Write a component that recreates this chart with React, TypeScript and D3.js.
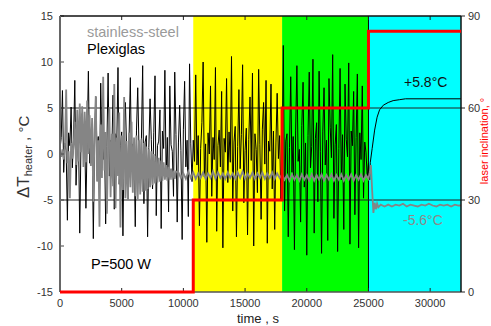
import React from "react";
import * as d3 from "d3";

// ---- data ----
const SAMPLE_STEP = 100; // s, sampling of the Plexiglas record and early steel record

// Plexiglas ΔT (°C) sampled every 100 s from 0 to 24900 s
const plexiglasWhite = [
  0.5, 1.8, 6.9, -2.0, 1.2, 0.4, -7.2, 2.3, 0.9, 5.1,
  -1.5, 1.6, 8.0, -3.4, 0.7, 2.0, -8.6, 1.1, 4.4, 0.3,
  2.2, -5.9, 1.4, 9.0, -1.0, 0.6, 2.5, -9.2, 1.0, 6.2,
  0.2, 1.9, -4.3, 7.7, 1.3, -0.6, 2.1, -7.6, 0.8, 8.8,
  -2.4, 1.5, 0.4, 6.4, -6.0, 2.2, 1.0, 9.4, -3.3, 0.9,
  2.4, -8.9, 1.2, 5.6, 0.5, -4.9, 2.0, 8.3, -1.8, 1.1,
  0.6, -7.9, 2.6, 7.2, 0.8, -2.7, 1.7, 9.6, -5.4, 1.3,
  2.0, -9.0, 0.7, 6.0, 1.6, -3.8, 2.3, 8.5, -6.7, 0.9,
  1.4, 4.8, -8.1, 2.5, 0.6, 9.1, -2.2, 1.8, -6.3, 7.4,
  1.0, 0.3, -4.6, 8.9, 2.1, -7.4, 1.2, 5.3, 0.4, -9.3,
  2.7, 7.9, -1.4, 1.5, -6.8, 9.8, 1.1, -3.0,
];
const plexiglasYellow = [
  1.5, -0.8, 8.6, -1.2, 2.0, -7.8, 0.6, 3.4, 10.0, -2.5,
  1.1, -9.6, 2.3, 0.0, 7.4, -4.6, 1.8, -0.6, 9.4, -8.4,
  0.9, 2.6, -1.4, 6.8, -10.2, 1.7, 0.2, 8.2, -3.1, 2.4,
  -0.9, 10.6, -6.2, 1.3, 3.0, -9.0, 0.8, 7.0, -1.6, 2.1,
  9.7, -5.3, 0.4, 2.8, -8.8, 1.6, 6.2, -0.7, 8.8, -10.0,
  2.2, 0.5, -4.2, 9.2, 1.0, -7.1, 2.7, 5.6, -1.1, 8.0,
  -9.7, 1.4, 0.3, 7.6, -3.8, 2.5, -8.2, 1.2, 6.6, -0.5,
  2.0, -5.0,
];
const plexiglasGreen = [
  -1.0, 11.8, -6.2, 1.4, 2.2, -9.0, 0.7, 8.4, -2.0, 1.9,
  -10.4, 2.6, 9.6, -0.8, 0.5, -7.4, 3.1, 7.8, -3.6, 1.2,
  -11.0, 2.0, 8.9, -1.5, 0.8, 10.3, -8.6, 1.7, 3.4, -5.2,
  9.0, 0.3, -10.8, 2.4, 7.2, -1.2, 1.5, -9.4, 8.2, 2.9,
  -0.4, 10.8, -7.0, 1.0, 3.2, -10.6, 0.6, 9.3, -2.8, 2.1,
  -8.2, 7.6, 1.6, -0.3, 9.9, -9.8, 2.5, 0.9, 6.8, -6.6,
  1.8, 8.7, -10.2, 2.3, -0.6, 7.4, -4.8, 1.3, 0.2, -2.5,
];
// Plexiglas after the last inclination step: [time s, ΔT °C]
const plexiglasTail: [number, number][] = [
  [25000, -1.0], [25100, -2.8], [25150, -0.9], [25300, 0.6], [25500, 2.6],
  [25700, 4.0], [25900, 4.8], [26200, 5.3], [26600, 5.6], [27000, 5.8],
  [27500, 5.9], [28000, 6.0], [32500, 6.0],
];

// stainless-steel ΔT (°C) sampled every 100 s from 0 to 9400 s
const steelEarly = [
  0.2, -0.3, 0.5, -0.6, 0.8, 7.0, -1.0, 0.3, -4.8, 1.2,
  -0.5, 0.9, 3.5, -1.2, 4.8, -0.8, 5.5, 0.2, 5.2, -1.4,
  4.6, -0.9, 5.8, 0.0, 4.2, -1.3, 3.9, -5.2, 2.6, 6.3,
  -3.0, 1.5, -7.9, 3.2, -2.6, 8.4, -1.8, 2.4, -6.5, 1.0,
  5.1, -4.7, 2.2, -3.5, 7.6, -5.9, 1.8, -2.4, 4.5, -8.0,
  2.0, -3.9, 6.2, -4.8, 1.4, -5.0, 2.3, -3.6, 3.5, -4.2,
  1.8, -4.6, 2.0, -4.9, 1.5, -4.4, 1.6, -4.1, 1.2, -4.0,
  0.8, -3.8, 0.5, -3.6, 0.3, -3.4, 0.0, -3.2, -0.2, -3.1,
  -0.4, -3.0, -0.7, -2.9, -0.9, -2.8, -1.2, -2.9, -1.4, -2.8,
  -1.6, -2.8, -1.8, -2.7, -1.9,
];
const STEEL_PLATEAU_START = 9600;
const STEEL_PLATEAU_STEP = 200;
const steelPlateau = [
  -2.0, -2.6, -2.1, -2.7, -1.9, -2.6, -2.0, -2.7, -2.1, -2.6,
  -2.0, -2.7, -2.1, -2.6, -1.9, -2.7, -2.0, -2.6, -2.1, -2.7,
  -2.0, -2.6, -2.1, -2.7, -2.0, -2.6, -1.9, -2.7, -2.1, -2.6,
  -2.0, -2.7, -2.1, -2.6, -2.0, -2.7, -2.1, -2.6, -2.0, -2.7,
  -2.1, -2.6, -2.2, -2.8, -2.3, -2.9, -2.2, -2.8, -2.3, -2.9,
  -2.2, -2.8, -2.3, -2.9, -2.2, -2.9, -2.3, -2.8, -2.2, -2.9,
  -2.3, -2.8, -2.2, -2.9, -2.3, -2.8, -2.2, -2.9, -2.3, -2.8,
  -2.2, -2.9, -2.3, -2.8, -2.2, -2.9, -2.3, -2.7,
];
const steelTail: [number, number][] = [
  [25100, -2.0], [25200, -1.2], [25300, -4.0], [25400, -6.4], [25500, -5.3],
  [25600, -6.0], [25700, -5.4], [25800, -5.8], [26000, -5.5], [26300, -5.7],
  [26600, -5.5], [26900, -5.7], [27200, -5.5], [27500, -5.6], [27800, -5.4],
  [28100, -5.7], [28400, -5.5], [28700, -5.6], [29000, -5.7], [29300, -5.5],
  [29600, -5.6], [29900, -5.4], [30200, -5.6], [30500, -5.7], [30800, -5.5],
  [31100, -5.6], [31400, -5.5], [31700, -5.7], [32000, -5.5], [32300, -5.6],
  [32500, -5.6],
];

// laser inclination phases
const phaseStarts = [0, 10800, 18000, 25000];
const phaseAngles = [0, 30, 60, 85];
const phaseColors = ["#ffffff", "#ffff00", "#00ff00", "#00ffff"];
const X_END = 32500;

const xTicks = [0, 5000, 10000, 15000, 20000, 25000, 30000];
const yLeftTicks = [-15, -10, -5, 0, 5, 10, 15];
const yRightTicks = [0, 30, 60, 90];

const W = 491;
const H = 326;
const FONT = "'Liberation Sans', Arial, sans-serif";

export default function App() {
  const x = d3.scaleLinear().domain([0, X_END]).range([60, 461]);
  const yL = d3.scaleLinear().domain([-15, 15]).range([292, 16]);
  const yR = d3.scaleLinear().domain([0, 90]).range([292, 16]);

  const plexSamples = [...plexiglasWhite, ...plexiglasYellow, ...plexiglasGreen];
  const plexPts: [number, number][] = plexSamples.map((v, i) => [i * SAMPLE_STEP, v] as [number, number]);
  plexPts.push(...plexiglasTail);
  const steelPts: [number, number][] = steelEarly.map((v, i) => [i * SAMPLE_STEP, v] as [number, number]);
  steelPlateau.forEach((v, i) => steelPts.push([STEEL_PLATEAU_START + i * STEEL_PLATEAU_STEP, v]));
  steelPts.push(...steelTail);

  const lineL = d3.line<[number, number]>().x((d) => x(d[0])).y((d) => yL(d[1]));
  const redPts: [number, number][] = phaseStarts.map((t, i) => [t, phaseAngles[i]] as [number, number]);
  redPts.push([X_END, phaseAngles[phaseAngles.length - 1]]);
  const redLine = d3
    .line<[number, number]>()
    .x((d) => x(d[0]))
    .y((d) => yR(d[1]))
    .curve(d3.curveStepAfter);

  const [x0, x1] = x.range();
  const [yb, yt] = yL.range();

  return (
    <svg width={W} height={H} style={{ position: "absolute", left: 0, top: 0 }} fontFamily={FONT}>
      <defs>
        <clipPath id="plot">
          <rect x={x0} y={yt} width={x1 - x0} height={yb - yt} />
        </clipPath>
      </defs>
      {phaseStarts.map((t, i) => {
        const tEnd = i < phaseStarts.length - 1 ? phaseStarts[i + 1] : X_END;
        return (
          <rect key={i} x={x(t)} y={yt} width={x(tEnd) - x(t)} height={yb - yt} fill={phaseColors[i]} />
        );
      })}
      <line x1={x(25000)} x2={x(25000)} y1={yt} y2={yb} stroke="#000" strokeWidth={1} />
      {[-5, 5].map((v) => (
        <line key={v} x1={x0} x2={x1} y1={yL(v)} y2={yL(v)} stroke="#222" strokeWidth={1} />
      ))}
      <g clipPath="url(#plot)">
        <path d={lineL(plexPts) || ""} fill="none" stroke="#000" strokeWidth={1} />
        <path d={lineL(steelPts) || ""} fill="none" stroke="#858585" strokeWidth={1.8} />
      </g>
      {/* ticks */}
      {xTicks.map((t) => (
        <g key={t}>
          <line x1={x(t)} x2={x(t)} y1={yt} y2={yt + 4} stroke="#222" />
          <line x1={x(t)} x2={x(t)} y1={yb} y2={yb - 4} stroke="#222" />
          <text x={x(t)} y={307} textAnchor="middle" fontSize={11} fill="#333">
            {t}
          </text>
        </g>
      ))}
      {yLeftTicks.map((v) => (
        <g key={v}>
          <line x1={x0} x2={x0 + 4} y1={yL(v)} y2={yL(v)} stroke="#444" />
          <text x={53} y={yL(v) + 4} textAnchor="end" fontSize={11} fill="#333">
            {v}
          </text>
        </g>
      ))}
      {yRightTicks.map((v) => (
        <g key={v}>
          <line x1={x1} x2={x1 + 4} y1={yR(v)} y2={yR(v)} stroke="#222" />
          <text x={468} y={yR(v) + 4} textAnchor="start" fontSize={11} fill="#333">
            {v}
          </text>
        </g>
      ))}
      {/* frame */}
      <line x1={x0} x2={x1} y1={yt} y2={yt} stroke="#111" strokeWidth={1.5} />
      <line x1={x0} x2={x1} y1={yb} y2={yb} stroke="#555" strokeWidth={1.5} />
      <line x1={x1} x2={x1} y1={yt} y2={yb} stroke="#111" strokeWidth={1.5} />
      <line x1={x0} x2={x0} y1={yt} y2={yb} stroke="#666" strokeWidth={2} />
      <path d={redLine(redPts) || ""} fill="none" stroke="#ff0000" strokeWidth={3} />
      {/* annotations */}
      <text x={87} y={37} fontSize={14.5} fill="#9a9a9a">stainless-steel</text>
      <text x={87} y={54} fontSize={14.5} fill="#000">Plexiglas</text>
      <text x={91} y={269} fontSize={14.5} fill="#000">P=500 W</text>
      <text x={404} y={87} fontSize={14} fill="#111">+5.8°C</text>
      <text x={403} y={225} fontSize={14} fill="#8a8a8a">-5.6°C</text>
      {/* axis titles */}
      <text transform="translate(29,198) rotate(-90)" fill="#333">
        <tspan fontSize={17}>ΔT</tspan>
        <tspan fontSize={11} dy={3}>heater</tspan>
        <tspan fontSize={15} dy={-3}> , °C</tspan>
      </text>
      <text x={237} y={323} fontSize={13} fill="#222">time , s</text>
      <text
        transform="translate(488,141) rotate(-90)"
        textAnchor="middle"
        fontSize={11}
        fill="#ff0000"
      >
        laser inclination, °
      </text>
    </svg>
  );
}
